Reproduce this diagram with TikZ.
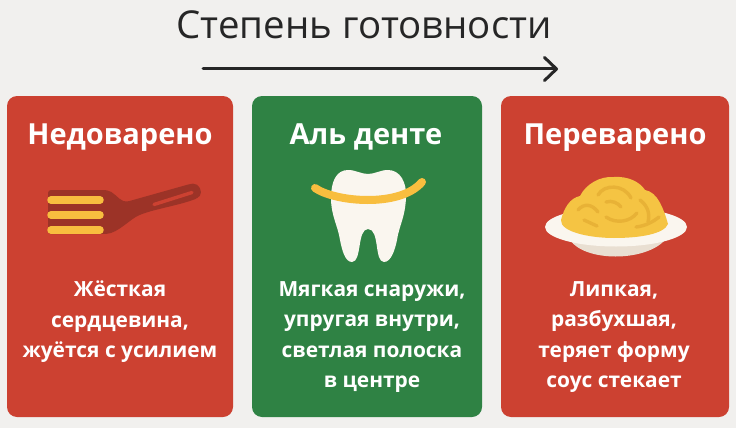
\documentclass[tikz,border=0pt]{standalone}
\usepackage{fontspec}
\setmainfont{Open Sans}
\usetikzlibrary{arrows.meta}
\definecolor{fondo}{HTML}{F1F0EE}
\definecolor{rojo}{HTML}{CC4131}
\definecolor{verde}{HTML}{2F8244}
\definecolor{oscuro}{HTML}{9C3327}
\definecolor{amarillo}{HTML}{F8BE3F}
\definecolor{hueso}{HTML}{FAF6EF}
\definecolor{loza}{HTML}{E9DFD2}
\definecolor{pasta}{HTML}{F5C443}
\definecolor{hebra}{HTML}{E8B236}
\definecolor{tinta}{HTML}{262626}
\tikzset{
	tarjeta/.style={rounded corners=10pt},
	cabecera/.style={text=white, font=\bfseries\fontsize{29}{32}\selectfont, anchor=base},
	cuerpo/.style={text=white, font=\fontsize{20.9}{30.5}\selectfont\bfseries, align=center, anchor=center},
	hebrita/.style={hebra, line width=3.4pt, line cap=round},
	cinta/.style={amarillo, line width=8pt, line cap=round}
}
\begin{document}
\begin{tikzpicture}[x=1pt, y=-1pt]
	% Fondo
	\fill[fondo] (0,0) rectangle (736,428);
	\useasboundingbox (0,0) rectangle (736,428);
	
	% Titulo y flecha
	\node[text=tinta, font=\fontsize{38.4}{42}\selectfont, anchor=base] (titulo) at (364,39) {Степень готовности};
	\coordinate (inicio) at (203,69);
	\coordinate (fin) at (558,69);
	\draw[tinta, line width=3pt, line cap=round, -{Straight Barb[length=12pt, width=23pt, line width=3pt, round]}] (inicio) -- (fin);
	
	% Tarjetas
	\fill[rojo, tarjeta] (7,96) rectangle (233,417);
	\fill[verde, tarjeta] (252,96) rectangle (482,417);
	\fill[rojo, tarjeta] (501,96) rectangle (729,417);
	
	% Cabeceras
	\node[cabecera] (poco) at (120,144) {Недоварено};
	\node[cabecera] (dente) at (366,144) {Аль денте};
	\node[cabecera] (mucho) at (615,144) {Переварено};
	
	% Tenedor
	\fill[oscuro, rounded corners=3pt] (48,190) -- (104,190) .. controls (113,191) and (118,199) .. (126,202) -- (190,184) .. controls (199,183) and (203,192) .. (198,198) .. controls (180,205) and (160,208) .. (142,214) .. controls (130,219) and (118,233) .. (104,234) -- (48,234) -- cycle;
	\draw[rojo, line width=3.4pt, line cap=round] (154,204.5) -- (192,192.5);
	\foreach \y in {200,215,230}
		\draw[amarillo, line width=7.5pt, line cap=round] (51,\y) -- (100,\y);
	
	% Diente
	\fill[hueso] (348,170) .. controls (356,170) and (361,174) .. (368,174) .. controls (375,174) and (380,170) .. (388,170) .. controls (400,170) and (407,182) .. (406,198) .. controls (405,218) and (399,226) .. (397,240) .. controls (395,250) and (391,262) .. (384,262) .. controls (374,262) and (380,229) .. (368,229) .. controls (357,229) and (362,262) .. (352,262) .. controls (345,262) and (342,250) .. (340,240) .. controls (338,226) and (331,216) .. (331,198) .. controls (331,182) and (336,170) .. (348,170) -- cycle;
	\draw[cinta] (315,188) .. controls (335,202) and (400,208) .. (422,182);
	
	% Plato
	\fill[loza] (570,240) .. controls (585,262) and (645,262) .. (665,240) -- cycle;
	\fill[hueso] (616,227) ellipse [x radius=71, y radius=19.5];
	
	% Pasta
	\fill[pasta] (561,220) .. controls (564,208) and (570,198) .. (580,196) .. controls (586,184) and (600,176) .. (614,177) .. controls (628,176) and (640,182) .. (645,190) .. controls (658,192) and (664,210) .. (668,224) .. controls (664,234) and (640,238) .. (614,238) .. controls (590,238) and (560,232) .. (561,220) -- cycle;
	\draw[hebrita] (598,195) .. controls (604,184) and (624,184) .. (631,198);
	\draw[hebrita] (578,210) .. controls (584,203) and (592,204) .. (598,212);
	\draw[hebrita] (606,202) .. controls (612,200) and (618,203) .. (621,207);
	\draw[hebrita] (606,217) .. controls (616,224) and (630,222) .. (637,213);
	\draw[hebrita] (640,200) .. controls (648,206) and (650,214) .. (648,222);
	\draw[hebrita] (584,220) -- (597,226);
	\draw[hebrita] (636,227) .. controls (645,226) and (653,222) .. (659,217);
	
	% Textos
	\node[cuerpo] (duro) at (120,322) {Жёсткая\\сердцевина,\\жуётся с усилием};
	\node[cuerpo] (firme) at (372,337) {Мягкая снаружи,\\упругая внутри,\\светлая полоска\\в центре};
	\node[cuerpo] (blando) at (614,337) {Липкая,\\разбухшая,\\теряет форму\\соус стекает};
\end{tikzpicture}
\end{document}
